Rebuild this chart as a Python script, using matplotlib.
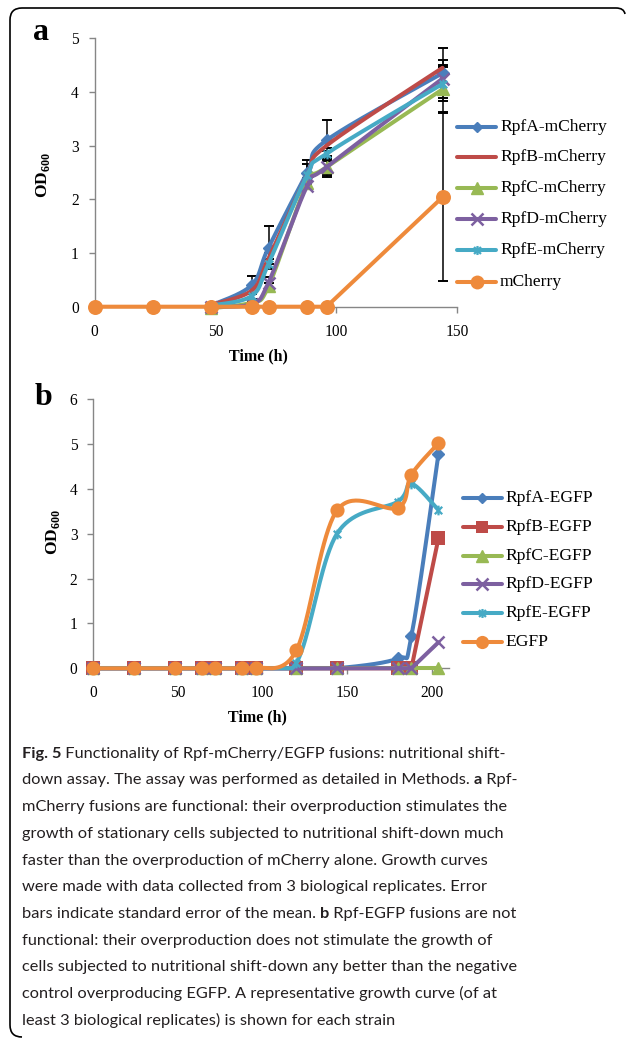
import numpy as np
import matplotlib
matplotlib.use("Agg")
import matplotlib.pyplot as plt
from matplotlib.path import Path
from matplotlib.patches import PathPatch
from matplotlib.lines import Line2D

plt.rcParams['mathtext.fontset'] = 'custom'
plt.rcParams['mathtext.rm'] = 'Liberation Serif'
plt.rcParams['mathtext.bf'] = 'Liberation Serif:bold'

# ---------------- data: panel a ----------------
time_a_rpf = [48, 65, 72, 88, 96, 144]
time_a_mch = [0, 24, 48, 65, 72, 88, 96, 144]
rpfA_mch = [0.02, 0.40, 1.10, 2.50, 3.10, 4.35]
rpfB_mch = [0.03, 0.30, 0.90, 2.45, 3.00, 4.45]
rpfC_mch = [-0.03, 0.08, 0.38, 2.30, 2.60, 4.05]
rpfD_mch = [0.00, 0.05, 0.45, 2.25, 2.60, 4.25]
rpfE_mch = [0.02, 0.20, 0.80, 2.45, 2.85, 4.15]
mch = [0, 0, 0, 0, 0, 0, 0, 2.04]
rpfA_mch_err = [0.00, 0.17, 0.40, 0.24, 0.38, 0.46]
rpfB_mch_err = [0.00, 0.06, 0.10, 0.05, 0.05, 0.14]
rpfC_mch_err = [0.00, 0.00, 0.06, 0.05, 0.15, 0.43]
rpfD_mch_err = [0.00, 0.00, 0.10, 0.05, 0.18, 0.25]
rpfE_mch_err = [0.00, 0.06, 0.08, 0.20, 0.05, 0.31]
mch_err = [0, 0, 0, 0, 0, 0, 0, 1.57]
labels_a = ["RpfA-mCherry", "RpfB-mCherry", "RpfC-mCherry", "RpfD-mCherry",
            "RpfE-mCherry", "mCherry"]

# ---------------- data: panel b ----------------
time_b = [0, 24, 48, 64, 72, 88, 96, 120, 144, 180, 188, 204]
rpfA_egfp = [0, 0, 0, 0, 0, 0, 0, 0, 0, 0.22, 0.71, 4.78]
rpfB_egfp = [0, 0, 0, 0, 0, 0, 0, 0, 0, 0, 0, 2.90]
rpfC_egfp = [0, 0, 0, 0, 0, 0, 0, 0, 0, 0, 0, 0]
rpfD_egfp = [0, 0, 0, 0, 0, 0, 0, 0, 0, 0, 0, 0.58]
rpfE_egfp = [0, 0, 0, 0, 0, 0, 0, 0.12, 3.00, 3.72, 4.12, 3.53]
egfp = [0, 0, 0, 0, 0, 0, 0, 0.40, 3.52, 3.58, 4.32, 5.02]
labels_b = ["RpfA-EGFP", "RpfB-EGFP", "RpfC-EGFP", "RpfD-EGFP", "RpfE-EGFP", "EGFP"]

xticks_a = [0, 50, 100, 150]
yticks_a = [0, 1, 2, 3, 4, 5]
xticks_b = [0, 50, 100, 150, 200]
yticks_b = [0, 1, 2, 3, 4, 5, 6]

caption_lines = [
    [("Fig. 5", True), (" Functionality of Rpf-mCherry/EGFP fusions: nutritional shift-", False)],
    [("down assay. The assay was performed as detailed in Methods. ", False), ("a", True), (" Rpf-", False)],
    [("mCherry fusions are functional: their overproduction stimulates the", False)],
    [("growth of stationary cells subjected to nutritional shift-down much", False)],
    [("faster than the overproduction of mCherry alone. Growth curves", False)],
    [("were made with data collected from 3 biological replicates. Error", False)],
    [("bars indicate standard error of the mean. ", False), ("b", True), (" Rpf-EGFP fusions are not", False)],
    [("functional: their overproduction does not stimulate the growth of", False)],
    [("cells subjected to nutritional shift-down any better than the negative", False)],
    [("control overproducing EGFP. A representative growth curve (of at", False)],
    [("least 3 biological replicates) is shown for each strain", False)],
]

# ---------------- styles ----------------
C_BLUE = "#4A7EBB"
C_RED = "#BE4B48"
C_GREEN = "#98B954"
C_PURPLE = "#7D60A0"
C_TEAL = "#46AAC5"
C_ORANGE = "#EE8A3B"
AX_GRAY = "#868686"
SERIF = "Liberation Serif"

star_path = Path([(-1, -1), (1, 1), (-1, 1), (1, -1), (0, -1.3), (0, 1.3)],
                 [Path.MOVETO, Path.LINETO, Path.MOVETO, Path.LINETO, Path.MOVETO, Path.LINETO])

W, H = 627, 1038
fig = plt.figure(figsize=(W / 100, H / 100), dpi=100)


def rect(l, t, r, b):
    return [l / W, 1 - b / H, (r - l) / W, (b - t) / H]


over = fig.add_axes([0, 0, 1, 1])
over.set_xlim(0, W)
over.set_ylim(H, 0)
over.axis("off")

axa = fig.add_axes(rect(94.5, 38.3, 457.0, 306.7))
axb = fig.add_axes(rect(93.3, 399.3, 448.6, 668.3))
axa.set_xlim(0, 150); axa.set_ylim(0, 5)
axb.set_xlim(0, 210); axb.set_ylim(0, 6)

for ax, xt, yt in ((axa, xticks_a, yticks_a), (axb, xticks_b, yticks_b)):
    ax.patch.set_alpha(0)
    for s in ("top", "right"):
        ax.spines[s].set_visible(False)
    for s in ("left", "bottom"):
        ax.spines[s].set_color(AX_GRAY)
        ax.spines[s].set_linewidth(1.0)
    ax.set_xticks(xt)
    ax.set_yticks(yt)
    ax.tick_params(axis="both", direction="out", length=4.3, width=1.0, color=AX_GRAY,
                   labelsize=11.2, labelcolor="black")
    ax.tick_params(axis="y", pad=7)
    ax.tick_params(axis="x", pad=8)
    for lab in ax.get_xticklabels() + ax.get_yticklabels():
        lab.set_fontfamily(SERIF)


def smooth(ax, xs, ys, n=40):
    pts = ax.transData.transform(np.column_stack([xs, ys]).astype(float))
    out = [pts[0]]
    m = len(pts)
    for i in range(m - 1):
        p0 = pts[i - 1] if i > 0 else pts[i]
        p1, p2 = pts[i], pts[i + 1]
        p3 = pts[i + 2] if i + 2 < m else pts[i + 1]
        c1 = p1 + (p2 - p0) / 6.0
        c2 = p2 - (p3 - p1) / 6.0
        t = np.linspace(0, 1, n)[1:, None]
        seg = (1 - t) ** 3 * p1 + 3 * (1 - t) ** 2 * t * c1 + 3 * (1 - t) * t ** 2 * c2 + t ** 3 * p2
        out.extend(seg)
    res = ax.transData.inverted().transform(np.array(out))
    return res[:, 0], np.maximum(res[:, 1], min(ys))


LW = 2.9


def plot_series(ax, xs, ys, color, marker, ms, do_smooth, mew=1.0, z=3):
    if do_smooth:
        sx, sy = smooth(ax, xs, ys)
    else:
        sx, sy = xs, ys
    ax.plot(sx, sy, color=color, lw=LW, solid_capstyle="round", clip_on=False, zorder=z)
    ax.plot(xs, ys, ls="none", marker=marker, ms=ms, color=color, mec=color, mew=mew,
            clip_on=False, zorder=z + 0.1)


# ---- panel a ----
styles_a = [
    (rpfA_mch, rpfA_mch_err, C_BLUE, "D", 6.0, True, 1.0),
    (rpfB_mch, rpfB_mch_err, C_RED, "s", 0.01, True, 0.0),
    (rpfC_mch, rpfC_mch_err, C_GREEN, "^", 9.0, True, 1.0),
    (rpfD_mch, rpfD_mch_err, C_PURPLE, "x", 8.5, True, 1.8),
    (rpfE_mch, rpfE_mch_err, C_TEAL, star_path, 7.0, True, 1.6),
]
for k, (ys, es, col, mk, ms, sm, mew) in enumerate(styles_a):
    plot_series(axa, time_a_rpf, ys, col, mk, ms, sm, mew=mew, z=3 + k * 0.2)
    axa.errorbar(time_a_rpf, ys, yerr=es, fmt="none", ecolor="black", elinewidth=1.1,
                 capsize=3.8, capthick=1.4, clip_on=False, zorder=2.5)
plot_series(axa, time_a_mch, mch, C_ORANGE, "o", 10.8, False, mew=0.0, z=4.5)
axa.errorbar(time_a_mch, mch, yerr=mch_err, fmt="none", ecolor="black", elinewidth=1.1,
             capsize=3.8, capthick=1.4, clip_on=False, zorder=2.5)

# ---- panel b ----
styles_b = [
    (rpfA_egfp, C_BLUE, "D", 6.0, True, 1.0),
    (rpfB_egfp, C_RED, "s", 9.4, False, 0.0),
    (rpfC_egfp, C_GREEN, "^", 9.0, False, 1.0),
    (rpfD_egfp, C_PURPLE, "x", 9.0, False, 1.8),
    (rpfE_egfp, C_TEAL, star_path, 7.0, True, 1.6),
    (egfp, C_ORANGE, "o", 10.2, True, 0.0),
]
for k, (ys, col, mk, ms, sm, mew) in enumerate(styles_b):
    plot_series(axb, time_b, ys, col, mk, ms, sm, mew=mew, z=3 + k * 0.2)

# ---- axis titles / panel letters (pixel coords on overlay) ----
over.text(258, 356, "Time (h)", family=SERIF, weight="bold", fontsize=11.5, ha="center", va="center")
over.text(257, 717, "Time (h)", family=SERIF, weight="bold", fontsize=11.5, ha="center", va="center")
over.text(43, 175, r"$\mathbf{OD}_{\mathbf{600}}$", fontsize=12.5, rotation=90, ha="center", va="center")
over.text(53, 532, r"$\mathbf{OD}_{\mathbf{600}}$", fontsize=12.5, rotation=90, ha="center", va="center")
over.text(33, 40, "a", family=SERIF, weight="bold", fontsize=23, ha="left", va="baseline")
over.text(35, 405, "b", family=SERIF, weight="bold", fontsize=23, ha="left", va="baseline")

# ---- legends ----
cols = [C_BLUE, C_RED, C_GREEN, C_PURPLE, C_TEAL, C_ORANGE]
leg_a_y = [126.7, 156.7, 188.3, 219.3, 250.0, 281.7]
leg_a_mk = [("D", 5.0, 1.0), ("s", 0.01, 0.0), ("^", 8.0, 1.0), ("x", 8.0, 1.8), (star_path, 6.5, 1.6), ("o", 10.0, 0.0)]
for y, lab, col, (mk, ms, mew) in zip(leg_a_y, labels_a, cols, leg_a_mk):
    over.add_line(Line2D([457, 496], [y, y], color=col, lw=LW, solid_capstyle="round"))
    over.plot([476.5], [y], marker=mk, ms=ms, color=col, mec=col, mew=mew, ls="none")
    over.text(500, y, lab, family=SERIF, fontsize=12.6, ha="left", va="center")

leg_b_y = [498.3, 526.7, 555.7, 584.0, 613.3, 642.3]
leg_b_mk = [("D", 5.0, 1.0), ("s", 8.0, 0.0), ("^", 8.0, 1.0), ("x", 8.0, 1.8), (star_path, 6.5, 1.6), ("o", 9.5, 0.0)]
for y, lab, col, (mk, ms, mew) in zip(leg_b_y, labels_b, cols, leg_b_mk):
    over.add_line(Line2D([463, 502], [y, y], color=col, lw=LW, solid_capstyle="round"))
    over.plot([482], [y], marker=mk, ms=ms, color=col, mec=col, mew=mew, ls="none")
    over.text(505, y, lab, family=SERIF, fontsize=12.6, ha="left", va="center")

# ---- border (top + left with rounded corners) ----
verts = [(625, 14), (624, 8), (616, 8), (22, 8), (10, 8), (10, 20),
         (10, 1025), (10, 1037), (22, 1037)]
codes = [Path.MOVETO, Path.CURVE3, Path.CURVE3, Path.LINETO, Path.CURVE3, Path.CURVE3,
         Path.LINETO, Path.CURVE3, Path.CURVE3]
over.add_patch(PathPatch(Path(verts, codes), fill=False, lw=1.2, ec="black"))

# ---- caption ----
CAP_FONT = "Lato"
renderer = fig.canvas.get_renderer()


def text_width(s, bold, size):
    t1 = over.text(0, 0, "X" + s + "X", family=CAP_FONT, weight="bold" if bold else "normal", fontsize=size)
    t2 = over.text(0, 0, "XX", family=CAP_FONT, weight="bold" if bold else "normal", fontsize=size)
    w = t1.get_window_extent(renderer).width - t2.get_window_extent(renderer).width
    t1.remove(); t2.remove()
    return w


ref_line = caption_lines[8][0][0]
base_size = 12.0
w0 = text_width(ref_line, False, base_size)
cap_size = base_size * 491.0 / w0

x_left = 21.7
y0 = 757.7
dy = 26.7
for i, segs in enumerate(caption_lines):
    x = x_left
    y = y0 + i * dy
    for s, bold in segs:
        over.text(x, y, s, family=CAP_FONT, weight="bold" if bold else "normal",
                  fontsize=cap_size, ha="left", va="baseline", color="#231F20")
        x += text_width(s, bold, cap_size)

fig.savefig("out.png", dpi=100)
